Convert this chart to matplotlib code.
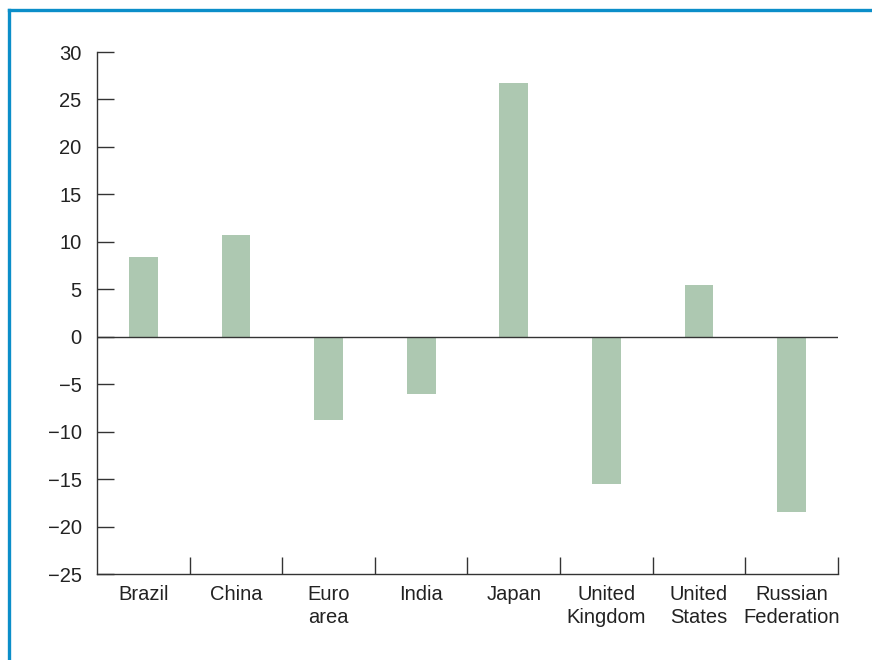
import matplotlib.pyplot as plt
from matplotlib.lines import Line2D

plt.rcParams['font.family'] = ['Liberation Sans', 'DejaVu Sans']

countries = ["Brazil", "China", "Euro\narea", "India", "Japan",
             "United\nKingdom", "United\nStates", "Russian\nFederation"]
values = [8.4, 10.7, -8.8, -6.0, 26.7, -15.5, 5.5, -18.5]
yticks = list(range(-25, 31, 5))

BAR = "#adc8b1"
INK = "#333333"
BLUE = "#0b8ec9"

fig = plt.figure(figsize=(8.72, 6.6), dpi=100)
ax = fig.add_axes([0.1112, 0.1303, 0.961 - 0.1112, 0.9212 - 0.1303])

x = [i + 0.5 for i in range(len(countries))]
ax.bar(x, values, width=0.31, color=BAR, zorder=2)
ax.axhline(0, color=INK, lw=1.0, zorder=3)

ax.set_xlim(0, len(countries))
ax.set_ylim(-25, 30)
ax.set_yticks(yticks)
ax.set_yticklabels([f"{v}".replace("-", "\u2212") for v in yticks])
ax.tick_params(axis='y', direction='in', length=12, width=1, color=INK,
               labelsize=14.5, pad=11, labelcolor="#222222")

# category labels centred, ticks at the boundaries
ax.set_xticks(range(1, len(countries) + 1))
ax.set_xticklabels([])
ax.tick_params(axis='x', direction='in', length=12, width=1, color=INK)
for xi, name in zip(x, countries):
    ax.text(xi, -26.2, name, ha='center', va='top', fontsize=14.5,
            color="#222222", linespacing=1.22)

for s in ['top', 'right']:
    ax.spines[s].set_visible(False)
for s in ['left', 'bottom']:
    ax.spines[s].set_color(INK)
    ax.spines[s].set_linewidth(1)

# blue frame on top and left
fig.add_artist(Line2D([8.5 / 872, 1], [1 - 9.5 / 660, 1 - 9.5 / 660],
                      color=BLUE, lw=2.4, transform=fig.transFigure))
fig.add_artist(Line2D([8.5 / 872, 8.5 / 872], [0, 1 - 9.5 / 660],
                      color=BLUE, lw=2.4, transform=fig.transFigure))

fig.savefig("out.png", dpi=100)
